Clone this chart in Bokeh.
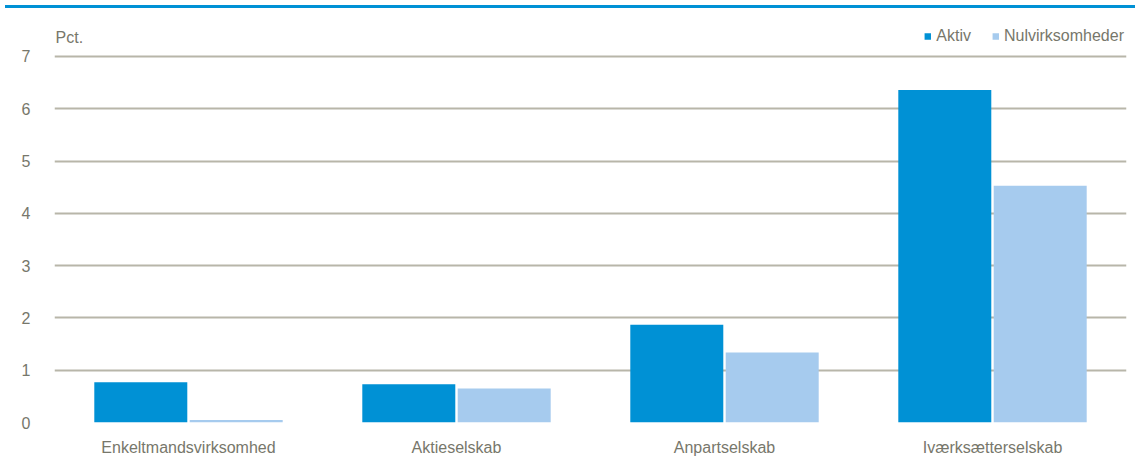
from bokeh.plotting import figure
from bokeh.models import ColumnDataSource, FactorRange, FixedTicker, Legend, LegendItem, Label, Div
from bokeh.layouts import column
from bokeh.transform import dodge
from bokeh.embed import file_html
from bokeh.resources import INLINE

categories = ["Enkeltmandsvirksomhed", "Aktieselskab", "Anpartselskab", "Iværksætterselskab"]
aktiv = [0.77, 0.73, 1.87, 6.36]
nulvirksomheder = [0.05, 0.65, 1.34, 4.53]
series_names = ["Aktiv", "Nulvirksomheder"]
y_ticks = [0, 1, 2, 3, 4, 5, 6, 7]

FONT = "Liberation Sans"
TEXT = "#77776b"
GRID = "#b8b6a9"
C_AKTIV = "#0091d5"
C_NUL = "#a6cbee"

src = ColumnDataSource(dict(cat=categories, aktiv=aktiv, nul=nulvirksomheder))

Y_TOP = 7.5924
p = figure(x_range=FactorRange(*categories, range_padding=0), y_range=(0, Y_TOP),
           width=1135, height=454, output_backend="svg", toolbar_location=None,
           min_border_left=54, min_border_right=9, min_border_top=17, min_border_bottom=40)
p.outline_line_color = None
p.background_fill_color = "white"
p.border_fill_color = "white"

r1 = p.vbar(x=dodge("cat", -0.178, range=p.x_range), top="aktiv", width=0.347, source=src,
            fill_color=C_AKTIV, line_color=None)
r2 = p.vbar(x=dodge("cat", 0.178, range=p.x_range), top="nul", width=0.347, source=src,
            fill_color=C_NUL, line_color=None)

p.yaxis.ticker = FixedTicker(ticks=y_ticks)
p.ygrid.ticker = FixedTicker(ticks=y_ticks)
p.ygrid.grid_line_color = GRID
p.ygrid.grid_line_width = 2
p.xgrid.grid_line_color = None

for ax in (p.xaxis, p.yaxis):
    ax.axis_line_color = None
    ax.major_tick_line_color = None
    ax.minor_tick_line_color = None
    ax.major_label_text_font = FONT
    ax.major_label_text_color = TEXT
    ax.major_label_text_font_size = "16px"
p.yaxis.major_label_standoff = 18
p.xaxis.major_label_standoff = 10

p.add_layout(Label(x=0.004, y=7.36, text="Pct.", text_font=FONT, text_font_size="16px",
                   text_color=TEXT, text_baseline="middle"))

legend = Legend(items=[LegendItem(label=series_names[0], renderers=[r1]),
                       LegendItem(label=series_names[1], renderers=[r2])],
                location="top_right", orientation="horizontal",
                label_text_font=FONT, label_text_font_size="16px", label_text_color=TEXT,
                glyph_width=8, glyph_height=8, label_standoff=5, spacing=20,
                padding=0, margin=2, border_line_color=None, background_fill_alpha=0)
p.add_layout(legend)

top_rule = Div(text="", width=1130, height=3, margin=(5, 0, 0, 5),
               styles={"background-color": C_AKTIV})

layout = column(top_rule, p, spacing=0)
open("out.html", "w").write(file_html(layout, INLINE))
